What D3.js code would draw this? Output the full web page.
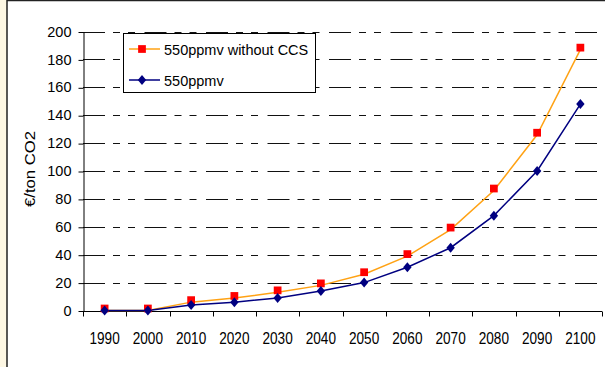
<!DOCTYPE html>
<html>
<head>
<meta charset="utf-8">
<script src="https://cdn.jsdelivr.net/npm/d3@7"></script>
<style>
  html, body { margin: 0; padding: 0; background: #fdf7e3; }
  svg { display: block; font-family: "Liberation Sans", Arial, sans-serif; }
</style>
</head>
<body>
<svg id="chart"></svg>
<script>
const [width, height] = [605, 367];
const years = ['1990', '2000', '2010', '2020', '2030', '2040', '2050', '2060', '2070', '2080', '2090', '2100'];
const withoutCCS = [0, 0, 6, 9, 13, 18, 26, 39, 58, 86, 126, 187];
const withCCS = [0, 0, 4, 6, 9, 14, 20, 31, 45, 68, 100, 148];
const yTicks = [0, 20, 40, 60, 80, 100, 120, 140, 160, 180, 200];
const seriesNames = ['550ppmv without CCS', '550ppmv'];

const svg = d3.select('#chart')
  .attr('width', width)
  .attr('height', height);

// white chart frame, cropped on the right and bottom
svg.append('rect')
  .attr('x', 7).attr('y', 0.5)
  .attr('width', width).attr('height', height + 5)
  .attr('fill', '#fff')
  .attr('stroke', '#222')
  .attr('stroke-width', 1.5);

const x = d3.scaleBand()
  .domain(years)
  .range([83, 602])
  .padding(0);
const y = d3.scaleLinear()
  .domain([0, 200])
  .range([310.5, 31.5]);
const cx = d => x(d) + x.bandwidth() / 2;

// gridlines
svg.append('g')
  .selectAll('line')
  .data(yTicks.filter(d => d > 0))
  .join('line')
  .attr('x1', 83).attr('x2', 602)
  .attr('y1', d => Math.round(y(d)) + 0.5)
  .attr('y2', d => Math.round(y(d)) + 0.5)
  .attr('stroke', '#111')
  .attr('stroke-dasharray', '22,8,7,8,7,9.5');

// y axis
const yAxis = svg.append('g')
  .attr('transform', 'translate(83.5,0)')
  .call(d3.axisLeft(y).tickValues(yTicks).tickSize(5).tickPadding(7).tickSizeOuter(0));
yAxis.selectAll('.tick line').attr('transform', 'translate(0,0.5)');
yAxis.selectAll('text').attr('font-size', '14.5px').attr('fill', '#000');
yAxis.select('.domain').attr('stroke', '#000');

// x axis
const xAxisY = Math.round(y(0)) + 0.5;
svg.append('line')
  .attr('x1', 83).attr('x2', 602)
  .attr('y1', xAxisY).attr('y2', xAxisY)
  .attr('stroke', '#000');
svg.append('g')
  .selectAll('line')
  .data(years.map(d => x(d)).concat([x.range()[1]]))
  .join('line')
  .attr('x1', d => Math.round(d) + 0.5)
  .attr('x2', d => Math.round(d) + 0.5)
  .attr('y1', xAxisY)
  .attr('y2', xAxisY + 5)
  .attr('stroke', '#000');
svg.append('g')
  .selectAll('text')
  .data(years)
  .join('text')
  .attr('transform', d => `translate(${cx(d)},343.5) scale(1,1.25)`)
  .attr('text-anchor', 'middle')
  .attr('font-size', '13.6px')
  .text(d => d);

// y label
svg.append('text')
  .attr('transform', 'translate(35,169) rotate(-90) scale(1.15,1)')
  .attr('text-anchor', 'middle')
  .attr('font-size', '14.5px')
  .text('€/ton CO2');

// series
const line = d3.line()
  .x((d, i) => cx(years[i]))
  .y(d => y(d));

svg.append('path')
  .datum(withoutCCS)
  .attr('fill', 'none')
  .attr('stroke', '#ffa214')
  .attr('stroke-width', 1.5)
  .attr('d', line);
svg.append('path')
  .datum(withCCS)
  .attr('fill', 'none')
  .attr('stroke', '#000080')
  .attr('stroke-width', 1.5)
  .attr('d', line);

const square = d3.symbol().type(d3.symbolSquare).size(60);
const diamond = 'M0,-5L4.2,0L0,5L-4.2,0Z';

svg.append('g')
  .selectAll('path')
  .data(withoutCCS)
  .join('path')
  .attr('transform', (d, i) => `translate(${cx(years[i])},${y(d) - 2})`)
  .attr('d', square)
  .attr('fill', '#ff0000');
svg.append('g')
  .selectAll('path')
  .data(withCCS)
  .join('path')
  .attr('transform', (d, i) => `translate(${cx(years[i])},${y(d)})`)
  .attr('d', diamond)
  .attr('fill', '#000080');

// legend
const legend = svg.append('g');
legend.append('rect')
  .attr('x', 123.5).attr('y', 33.5)
  .attr('width', 192).attr('height', 59)
  .attr('fill', '#fff')
  .attr('stroke', '#000');

const legendRows = [
  { name: seriesNames[0], color: '#ffa214', mark: square, fill: '#ff0000', y: 49 },
  { name: seriesNames[1], color: '#000080', mark: diamond, fill: '#000080', y: 80 }
];
legendRows.forEach(r => {
  legend.append('line')
    .attr('x1', 129).attr('x2', 160)
    .attr('y1', r.y).attr('y2', r.y)
    .attr('stroke', r.color)
    .attr('stroke-width', 1.5);
  legend.append('path')
    .attr('transform', `translate(142,${r.y})`)
    .attr('d', r.mark)
    .attr('fill', r.fill);
  legend.append('text')
    .attr('x', 164).attr('y', r.y + 5.5)
    .attr('font-size', '14.5px')
    .text(r.name);
});
</script>
</body>
</html>
